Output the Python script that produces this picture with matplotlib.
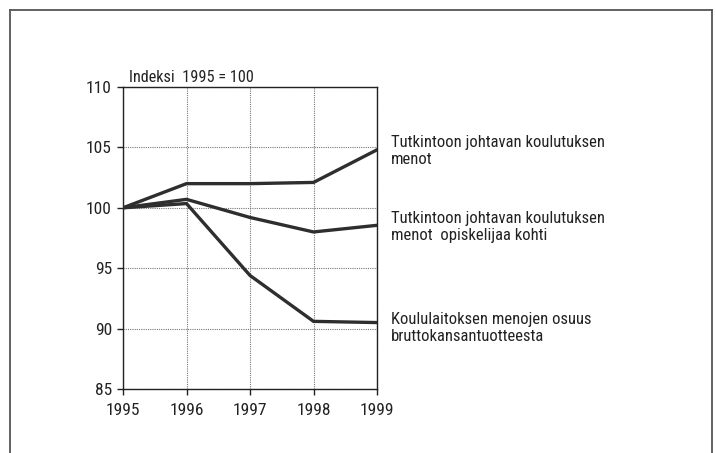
import matplotlib.pyplot as plt
from matplotlib.lines import Line2D

plt.rcParams['font.family'] = ['Roboto Condensed', 'DejaVu Sans']

# data
years = [1995, 1996, 1997, 1998, 1999]
menot = [100, 102.0, 102.0, 102.1, 104.8]
menot_per_opiskelija = [100, 100.7, 99.2, 98.0, 98.55]
bkt_osuus = [100, 100.35, 94.4, 90.6, 90.5]
labels = [
    'Tutkintoon johtavan koulutuksen\nmenot',
    'Tutkintoon johtavan koulutuksen\nmenot  opiskelijaa kohti',
    'Koululaitoksen menojen osuus\nbruttokansantuotteesta',
]
yticks = [85, 90, 95, 100, 105, 110]

W, H = 716, 453
fig = plt.figure(figsize=(W / 100, H / 100), dpi=100)
ax = fig.add_axes([123 / W, 1 - 389 / H, 254 / W, 302 / H])

line_color = '#2e2e2e'
for series in (menot, menot_per_opiskelija, bkt_osuus):
    ax.plot(years, series, color=line_color, lw=2.4, solid_joinstyle='miter', zorder=3)

ax.set_xlim(1995, 1999)
ax.set_ylim(85, 110)
ax.set_xticks(years)
ax.set_yticks(yticks)
ax.grid(True, color='#777777', linestyle=(0, (1, 1)), lw=0.8)
ax.tick_params(direction='out', length=4, width=1, colors='#222222', labelsize=12.5)
ax.tick_params(axis='x', pad=6)
ax.tick_params(axis='y', pad=4)
for s in ax.spines.values():
    s.set_color('#222222')
    s.set_linewidth(1)

fig.text(129 / W, 1 - 82 / H, 'Indeksi  1995 = 100', ha='left', va='baseline',
         fontsize=11.7, color='#222222')

# labels on the right; va='baseline' pins the last line's baseline
label_base = [164, 240, 341]
for yb, txt in zip(label_base, labels):
    fig.text(391 / W, 1 - yb / H, txt, ha='left', va='baseline', fontsize=12,
             color='#222222', linespacing=1.13)

# frame around the figure, open at the bottom
frame_color = '#555555'
x0, x1, y0 = 9.5 / W, 711.5 / W, 1 - 9.5 / H
fig.add_artist(Line2D([x0, x1], [y0, y0], transform=fig.transFigure, color=frame_color, lw=1.3))
fig.add_artist(Line2D([x0, x0], [y0, 0], transform=fig.transFigure, color=frame_color, lw=1.3))
fig.add_artist(Line2D([x1, x1], [y0, 0], transform=fig.transFigure, color=frame_color, lw=1.3))

fig.savefig('out.png', dpi=100)
